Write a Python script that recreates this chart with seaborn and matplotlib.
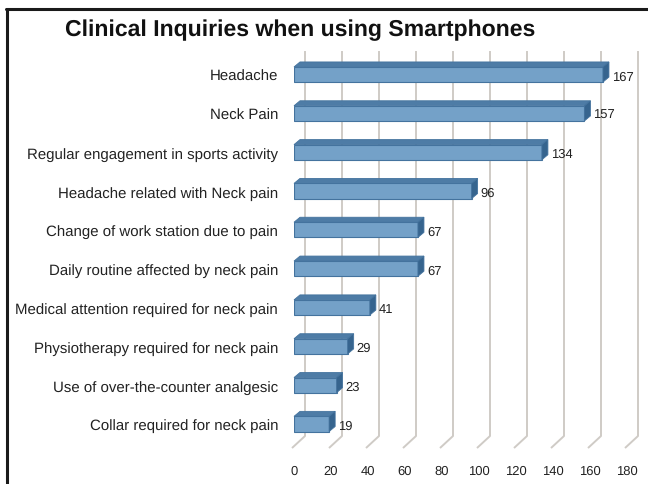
import matplotlib
matplotlib.use("Agg")
import matplotlib.pyplot as plt
from matplotlib.patches import Polygon
from matplotlib.lines import Line2D
import seaborn as sns
import pandas as pd

categories = [
    "Headache",
    "Neck Pain",
    "Regular engagement in sports activity",
    "Headache related with Neck pain",
    "Change of work station due to pain",
    "Daily routine affected by neck pain",
    "Medical attention required for neck pain",
    "Physiotherapy required for neck pain",
    "Use of over-the-counter analgesic",
    "Collar required for neck pain",
]
values = [167, 157, 134, 96, 67, 67, 41, 29, 23, 19]
xticks = [0, 20, 40, 60, 80, 100, 120, 140, 160, 180]
title = "Clinical Inquiries when using Smartphones"

sns.set_style("white")
plt.rcParams["font.family"] = ["Liberation Sans", "DejaVu Sans"]
plt.rcParams["text.hinting"] = "no_hinting"
plt.rcParams["text.hinting_factor"] = 1

W, H = 648, 485
fig = plt.figure(figsize=(W / 100, H / 100), dpi=100)

# axes in pixel geometry
ax_left, ax_right = 294, 627
ax_top, ax_bot = 46.4, 456.0
ax = fig.add_axes([ax_left / W, (H - ax_bot) / H, (ax_right - ax_left) / W, (ax_bot - ax_top) / H])

df = pd.DataFrame({"category": categories, "value": values})
front = "#74a1c8"
edge = "#44739e"
top_col = "#4e7ca6"
side_col = "#36648e"

sns.barplot(data=df, x="value", y="category", orient="h", color=front,
            saturation=1, width=0.39, edgecolor=edge, linewidth=0.8, ax=ax, zorder=3)

ax.set_xlim(0, 180)
ax.set_ylim(9.8, -0.75)

pxx = (ax_right - ax_left) / 180.0   # px per x unit
pxy = (ax_bot - ax_top) / (9.8 + 0.75)  # px per y unit

# back gridlines with floor diagonals
g_dx = 11 / pxx
f_dx = -2 / pxx
y_gtop = (52 - 75.5) / pxy
y_back = (437 - 75.5) / pxy
y_front = (449 - 75.5) / pxy
for v in xticks:
    ax.plot([v + g_dx, v + g_dx, v + f_dx], [y_gtop, y_back, y_front],
            color="#cfcbc6", lw=1.4, zorder=1, clip_on=False, solid_capstyle="butt")

# 3D faces for bars
ddx = 6 / pxx
ddy = -5 / pxy
for p, val in zip(ax.patches, values):
    x0 = p.get_x()
    w = p.get_width()
    ya = p.get_y()
    yb = ya + p.get_height()
    yt, ybt = min(ya, yb), max(ya, yb)
    topf = Polygon([(x0, yt), (x0 + w, yt), (x0 + w + ddx, yt + ddy), (x0 + ddx, yt + ddy)],
                   closed=True, facecolor=top_col, edgecolor=edge, lw=0.6, zorder=3, clip_on=False)
    sidef = Polygon([(x0 + w, yt), (x0 + w, ybt), (x0 + w + ddx, ybt + ddy), (x0 + w + ddx, yt + ddy)],
                    closed=True, facecolor=side_col, edgecolor=edge, lw=0.6, zorder=3, clip_on=False)
    ax.add_patch(topf)
    ax.add_patch(sidef)
    ax.text(x0 + w + ddx + 3 / pxx, (yt + ybt) / 2 + 1.5 / pxy, f"{val}", ha="left", va="center",
            fontsize=9.5, color="#222222", zorder=4)

ax.set_xticks(xticks)
ax.set_xticklabels([str(t) for t in xticks], fontsize=9.5, color="#222222")
ax.tick_params(axis="x", length=0, pad=7)
ax.tick_params(axis="y", length=0, pad=11.5, labelsize=10.5, labelcolor="#222222")
ax.set_xlabel("")
ax.set_ylabel("")
for s in ax.spines.values():
    s.set_visible(False)
ax.grid(False)

fig.text(300 / W, 1 - 30 / H, title, ha="center", va="center", fontsize=16.4,
         fontweight="bold", color="#111111")

# outer frame (top and left visible)
fig.add_artist(Line2D([7 / W, 7 / W], [0, 1 - 9.5 / H], transform=fig.transFigure, color="#1a1a1a", lw=2.2))
fig.add_artist(Line2D([6 / W, 1], [1 - 9.5 / H, 1 - 9.5 / H], transform=fig.transFigure, color="#1a1a1a", lw=2.2))

fig.savefig("out.png", dpi=100)
